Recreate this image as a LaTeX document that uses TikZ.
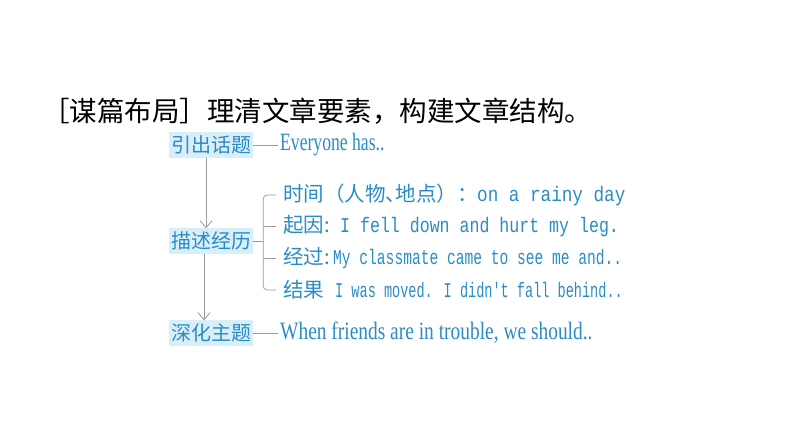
\documentclass[tikz,border=0pt]{standalone}
\usepackage{fontspec}
\setmainfont{Liberation Serif}
\newfontfamily\cjk{Noto Sans CJK SC}
\newfontfamily\condfont[FakeStretch=0.705]{Liberation Serif}
\newfontfamily\widecondfont[FakeStretch=0.777]{Liberation Serif}
\newfontfamily\monoA[FakeStretch=0.84]{Liberation Mono}
\newfontfamily\monoB[FakeStretch=0.79]{Liberation Mono}
\newfontfamily\monoC[FakeStretch=0.695]{Liberation Mono}
\newfontfamily\monoD[FakeStretch=0.646]{Liberation Mono}
\usetikzlibrary{positioning}
\usetikzlibrary{arrows.meta}

\definecolor{textblue}{HTML}{2A8CC4}
\definecolor{boxfill}{HTML}{D8EFFA}
\definecolor{linegray}{HTML}{9A9A9A}

\newcommand{\zh}[2]{\makebox[#1][l]{\cjk\fontsize{20.5}{20.5}\selectfont #2}}
\newcommand{\en}{\fontsize{21}{21}\selectfont}

\tikzset{
  topic/.style={fill=boxfill, text=textblue, font=\cjk\fontsize{20}{20}\selectfont,
    inner xsep=2pt, minimum height=24pt},
  entry/.style={text=textblue, anchor=west, inner sep=0pt},
  link/.style={draw=linegray, line width=0.8pt},
  down/.style={link, -{Straight Barb[length=7pt,width=12pt]}},
}

\begin{document}
\begin{tikzpicture}[x=1pt,y=-1pt]
\useasboundingbox (0,0) rectangle (794,447);

% heading
\node[anchor=west, inner sep=0pt, font=\cjk\fontsize{27.5}{27.5}\selectfont] (title) at (42,111)
  {［谋篇布局］理清文章要素，构建文章结构。};

% three topics
\node[topic] (intro) at (211,145) {引出话题};
\node[topic] (story) at (211,241) {描述经历};
\node[topic] (theme) at (211,333) {深化主题};

\draw[down] ([xshift=-5pt]intro.south) -- ([xshift=-5pt]story.north);
\draw[down] ([xshift=-7pt]story.south) -- ([xshift=-7pt]theme.north);

% texts beside the topics
\node[entry, font=\condfont\fontsize{25}{25}\selectfont] (introtext) at (280,145) {Everyone has..};
\node[entry, font=\widecondfont\fontsize{25}{25}\selectfont] (themetext) at (280,333)
  {When friends are in trouble, we should..};
\draw[link] (intro.east) -- ([xshift=-2pt]introtext.west);
\draw[link] (theme.east) -- ([xshift=-2pt]themetext.west);

% four parts of the story
\node[entry] (when) at (283,195)
  {\zh{194pt}{时间（人物\makebox[10pt][l]{、}地点）：}{\monoA\en on a rainy day}};
\node[entry] (cause) at (283,226) {\zh{57pt}{起因:}{\monoB\en I fell down and hurt my leg.}};
\node[entry] (process) at (283,258) {\zh{50pt}{经过:}{\monoC\en My classmate came to see me and..}};
\node[entry] (result) at (283,290) {\zh{52pt}{结果}{\monoD\en I was moved. I didn't fall behind..}};

\coordinate (fork) at ([xshift=10pt]story.east);
\draw[link] (story.east) -- (fork);
\draw[link, rounded corners=4pt] ([xshift=-7pt]when.west) -- (fork |- when.west)
  -- (fork |- result.west) -- ([xshift=-7pt]result.west);
\foreach \n in {cause,process}
  \draw[link] (fork |- \n.west) -- ([xshift=-7pt]\n.west);
\end{tikzpicture}
\end{document}
